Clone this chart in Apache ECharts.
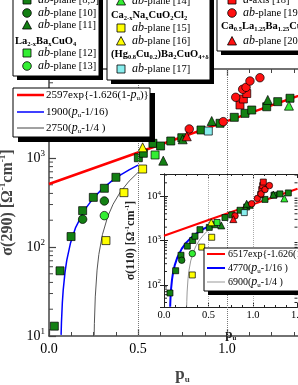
<!DOCTYPE html>
<html><head><meta charset="utf-8">
<script src="https://cdn.jsdelivr.net/npm/echarts@6/dist/echarts.min.js"></script>
<style>html,body{margin:0;padding:0;background:#fff}#c{width:298px;height:385px}</style>
</head><body><div id="c"></div>
<script>
// ---------------- data (p_u, sigma) ----------------
// main panel: sigma(290)
const mainSqDark   = [[0.030,12.9],[0.062,54],[0.124,131],[0.189,256],[0.249,361],[0.311,457],[0.376,607],[0.502,1007],[0.530,1130],[0.584,1462],[0.627,1365],[0.684,1552],[0.746,1690],[0.854,2065],[0.961,2455],[1.041,2865],[1.101,3175],[1.139,3460],[1.223,3765],[1.285,4295],[1.354,4690]];
const mainCircDark = [[0.189,205],[0.311,329]];
const mainTriDark  = [[0.642,933],[0.751,1622],[0.914,2605],[1.229,4490]];
const mainSqLight  = [[0.596,1081]];
const mainCircLight= [[0.311,225]];
const mainTriLight = [[1.348,3873]];
const mainSqYellow = [[0.320,118],[0.421,408],[0.526,752]];
const mainTriYellow= [[0.526,1318]];
const mainSqCyan   = [[0.895,2009]];
const mainSqRed    = [[1.073,3945],[1.092,4603],[1.111,5300]];
const mainCircRed  = [[0.788,2120],[0.979,2560],[1.049,4810],[1.088,5915],[1.107,6225],[1.129,7330],[1.185,7980]];
const mainTriRed   = [[0.774,1754]];
// fit curves, main panel
const mainFitRed  = [[0,511],[0.5,1152],[1.0,2597],[1.5,5855]];
const mainFitBlue = [[0.0679,10.3],[0.07,14.25],[0.075,23.75],[0.08,33.25],[0.09,52.25],[0.1,71.25],[0.12,109.25],[0.15,166.25],[0.2,261.25],[0.25,356.25],[0.3,451.25],[0.35,546.25],[0.4,641.25],[0.45,736.25],[0.5,831.25]];
const mainFitGray = [[0.2537,10.2],[0.255,13.75],[0.26,27.5],[0.27,55],[0.28,82.5],[0.3,137.5],[0.33,220],[0.36,302.5],[0.4,412.5],[0.45,550],[0.5,687.5]];
// inset panel: sigma(110)
const insSqDark   = [[0.067,65.5],[0.131,208],[0.191,464],[0.262,747],[0.322,1000],[0.348,1248],[0.404,1755],[0.509,1977],[0.573,2268],[0.685,3296],[0.761,3784],[0.854,4808],[0.929,5699],[0.966,6210],[1.135,8450],[1.236,10520],[1.303,11250],[1.397,11830]];
const insCircDark = [[0.199,359]];
const insTriDark  = [[0.644,2188],[0.929,6745],[1.228,10900]];
const insSqLight  = [[0.596,2553]];
const insCircLight= [[0.318,506]];
const insTriLight = [[1.352,8890]];
const insSqYellow = [[0.318,167],[0.424,710],[0.536,1183]];
const insTriYellow= [[0.531,2578]];
const insSqCyan   = [[0.902,4255]];
const insSqRed    = [[1.086,10900],[1.098,14100],[1.109,17300],[1.116,20800]];
const insCircRed  = [[0.798,3593],[0.985,6745],[1.049,8890],[1.09,11250],[1.135,14100],[1.184,17300]];
const insTriRed   = [[0.779,3034]];
const insFitRed  = [[0,1282],[0.5,2890],[1.0,6517],[1.5,14694]];
const insFitBlue = [[0.0692,32],[0.072,45.3],[0.075,59.6],[0.08,83.5],[0.09,131],[0.1,179],[0.12,274],[0.15,417],[0.2,656],[0.25,894],[0.3,1133],[0.35,1371],[0.4,1610],[0.45,1848],[0.5,2087]];
const insFitGray = [[0.2547,32.4],[0.256,41.4],[0.26,69],[0.27,138],[0.28,207],[0.3,345],[0.33,552],[0.36,759],[0.4,1035],[0.45,1380],[0.5,1725]];
// reference lines and minor tick values
const dottedAt = [0.5, 1.0];
const minorMainY = [20,30,40,50,60,70,80,90,200,300,400,500,600,700,800,900,2000,3000,4000,5000,6000,7000,8000,9000];
const minorInsY  = [40,50,60,70,80,90,200,300,400,500,600,700,800,900,2000,3000,4000,5000,6000,7000,8000,9000,20000,30000];
// legend texts
const fitLabelsMain = ['2597exp{-1.626(1-{i|p}{s|u})}','1900({i|p}{s|u}-1/16)','2750({i|p}{s|u}-1/4 )'];
const fitLabelsIns  = ['6517exp{-1.626(1-{i|p}{s|u})}','4770({i|p}{s|u}-1/16 )','6900({i|p}{s|u}-1/4 )'];

// ---------------- style ----------------
const FONT = 'Liberation Serif';
const C = {dg:'#138013', lg:'#33ee33', ye:'#ffff00', cy:'#88eeee', rd:'#ff1010'};
const AX = '#444';

function sc(data, symbol, color, size, xi, yi, z){
  return {type:'scatter', xAxisIndex:xi, yAxisIndex:yi, data, symbol, symbolSize:size,
    itemStyle:{color, borderColor:'#000', borderWidth:0.7, opacity:1}, z, silent:true, animation:false};
}
function ln(data,color,width,xi,yi,z,extra){
  return Object.assign({type:'line', xAxisIndex:xi, yAxisIndex:yi, data, showSymbol:false, symbol:'none',
    lineStyle:{color,width}, z, silent:true, animation:false, clip:true}, extra||{});
}
function ticks(values, xPos, len, xi, yi, z, color){
  return {type:'custom', xAxisIndex:xi, yAxisIndex:yi, z, silent:true, animation:false, clip:false,
    data: values.map(v=>[xPos, v]),
    renderItem:function(params, api){
      const p = api.coord([api.value(0), api.value(1)]);
      return {type:'line', shape:{x1:p[0], y1:p[1], x2:p[0]+len, y2:p[1]}, style:{stroke:color, lineWidth:1}};
    }};
}
function dotted(color){
  return {markLine:{silent:true, symbol:'none', label:{show:false}, animation:false,
    lineStyle:{type:'dotted', color, width:1}, data: dottedAt.map(v=>({xAxis:v}))}};
}
function logFmt(v){
  const e = Math.log10(v);
  if (Math.abs(e - Math.round(e)) > 1e-6) return '';
  return '10{p|' + Math.round(e) + '}';
}

// ---------------- graphic legend ----------------
const richTxt = {
  i:{fontStyle:'italic', fontFamily:FONT},
  s:{fontSize:7, lineHeight:7, verticalAlign:'bottom', fontFamily:FONT},
  bs:{fontSize:6.5, lineHeight:6, verticalAlign:'bottom', fontFamily:FONT, fontWeight:'bold'}
};
const G = [];
function box(x,y,w,h,off){
  G.push({type:'rect', shape:{x:x+off, y:y+off, width:w, height:h}, style:{fill:'#000'}, z:20});
  G.push({type:'rect', shape:{x, y, width:w, height:h}, style:{fill:'#fff', stroke:'#000', lineWidth:1}, z:21});
}
function mk(kind, cx, cy, fill, s){
  const st = {fill, stroke:'#000', lineWidth:0.8};
  if (kind==='sq') G.push({type:'rect', shape:{x:cx-s/2, y:cy-s/2, width:s, height:s}, style:st, z:22});
  else if (kind==='ci') G.push({type:'circle', shape:{cx, cy, r:s/2+0.3}, style:st, z:22});
  else G.push({type:'polygon', shape:{points:[[cx,cy-s/2-0.5],[cx+s/2+0.5,cy+s/2],[cx-s/2-0.5,cy+s/2]]}, style:st, z:22});
}
function tx(x, y, text, size, bold){
  G.push({type:'text', x, y, z:23, style:{text, fontFamily:FONT, fontSize:size, fontWeight:bold?'bold':'normal',
    fill:'#000', align:'left', verticalAlign:'middle', lineHeight:size+3, rich:richTxt}});
}
function hl(x1,x2,y,color,w){
  G.push({type:'line', shape:{x1, y1:y, x2, y2:y}, style:{stroke:color, lineWidth:w}, z:22});
}
const LS = 10.5, HS = 10.5;
// box 1
box(13,-20,86,96,4);
mk('sq',27,0,C.dg,8);  tx(38,0,'{i|ab}-plane [8,9]',LS);
mk('ci',27,13,C.dg,8); tx(38,13,'{i|ab}-plane [10]',LS);
mk('tr',27,25,C.dg,8); tx(38,25,'{i|ab}-plane [11]',LS);
tx(15,41,'La{bs|2-x}Ba{bs|x}CuO{bs|4}',HS,true);
mk('sq',27,53,C.lg,8); tx(38,53,'{i|ab}-plane [12]',LS);
mk('ci',27,66,C.lg,8); tx(38,66,'{i|ab}-plane [13]',LS);
// box 2
box(107,-20,103,100,4);
mk('tr',121,1,C.lg,8); tx(132,1,'{i|ab}-plane [14]',LS);
tx(111,15,'Ca{bs|2-x}Na{bs|x}CuO{bs|2}Cl{bs|2}',HS,true);
mk('sq',121,28,C.ye,8); tx(132,28,'{i|ab}-plane [15]',LS);
mk('tr',121,41,C.ye,8); tx(132,41,'{i|ab}-plane [16]',LS);
tx(111,54,'(Hg{bs|0.8}Cu{bs|0.2})Ba{bs|2}CuO{bs|4+δ}',HS,true);
mk('sq',121,69,C.cy,8); tx(132,69,'{i|ab}-plane [17]',LS);
// box 3
box(217,-20,100,71,4);
mk('sq',232,0,C.rd,8); tx(243,0,'{i|a}-axis [18]',LS);
mk('ci',232,13,C.rd,8); tx(243,13,'{i|ab}-plane [19]',LS);
tx(221,26,'Ca{bs|0.5}La{bs|1.25}Ba{bs|1.25}Cu{bs|3}O{bs|y}',HS,true);
mk('tr',232,41,C.rd,8); tx(243,41,'{i|ab}-plane [20]',LS);
// fit legend (main)
box(13,88,137,49,5);
hl(17,44,95,'#ff0000',2.5); tx(46,95,fitLabelsMain[0],11);
hl(17,44,112,'#0000ff',1.5); tx(46,112,fitLabelsMain[1],11);
hl(17,44,128,'#444',1); tx(46,128,fitLabelsMain[2],11);
// fit legend (inset)
box(204,248,110,43,4);
hl(207,225,254,'#ff0000',2); tx(228,254,fitLabelsIns[0],10);
hl(207,225,268,'#0000ff',2); tx(228,268,fitLabelsIns[1],10);
hl(207,225,282,'#999',1); tx(228,282,fitLabelsIns[2],10);

// ---------------- axes ----------------
const supRich = (fs)=>({p:{fontSize:fs, lineHeight:fs, verticalAlign:'top', fontFamily:FONT}});
function xAx(grid, pos, main, showLabel, name){
  const o = {type:'value', gridIndex:grid, position:pos, min:0, max:1.5, interval:0.5,
    axisLine:{show:true, onZero:false, lineStyle:{color: main?AX:'#222', width: main?1.5:1}},
    axisTick:{show:true, inside:true, length: main?7:4, lineStyle:{color: main?AX:'#222', width: main?1.2:1}},
    minorTick:{show:true, splitNumber:4, length: main?4:2, lineStyle:{color: main?AX:'#222'}},
    splitLine:{show:false}, minorSplitLine:{show:false},
    axisLabel:{show:showLabel, formatter:v=>v.toFixed(1), fontFamily:FONT, fontSize: main?14:10.5, color:'#000', margin: main?6:3},
    z: main?0:4};
  if (name) {
    o.name = '{a|p}{s|u}'; o.nameLocation='middle'; o.nameGap = main?30:21;
    o.nameTextStyle = {rich:{a:{fontFamily:FONT, fontWeight:'bold', fontSize: main?17:13, lineHeight: main?18:14},
                             s:{fontFamily:FONT, fontWeight:'bold', fontSize: main?9:7, lineHeight: main?8:6, verticalAlign:'bottom'}}};
  }
  return o;
}
const option = {
  animation:false,
  backgroundColor:'#fff',
  grid:[
    {left:49, top:69, width:267, height:267, outerBoundsMode:'none'},
    {left:164, top:174, width:133.5, height:133, show:true, backgroundColor:'#fff', borderWidth:0, z:3, outerBoundsMode:'none'}
  ],
  xAxis:[
    xAx(0,'bottom',true,true,true),
    xAx(0,'top',true,false,false),
    xAx(1,'bottom',false,true,true),
    xAx(1,'top',false,false,false)
  ],
  yAxis:[
    {type:'log', logBase:10, gridIndex:0, min:10, max:10000, position:'left',
     axisLine:{show:true, lineStyle:{color:AX, width:1.5}},
     axisTick:{show:true, inside:true, length:7, lineStyle:{color:AX, width:1.2}},
     splitLine:{show:false},
     axisLabel:{formatter:logFmt, fontFamily:FONT, fontSize:14, color:'#000', margin:4, lineHeight:18, rich:supRich(9)},
     name:'{a|σ(290) [Ω}{p|-1}{a|cm}{p|-1}{a|]}', nameLocation:'middle', nameGap:27, nameRotate:90,
     nameTextStyle:{rich:{a:{fontFamily:FONT, fontWeight:'bold', fontSize:16, lineHeight:18},
                          p:{fontFamily:FONT, fontWeight:'bold', fontSize:9, lineHeight:8, verticalAlign:'top'}}}},
    {type:'log', logBase:10, gridIndex:1, min:31.6227766, max:31622.7766, position:'left', z:4,
     axisLine:{show:true, lineStyle:{color:'#222', width:1}},
     axisTick:{show:true, inside:true, length:4, lineStyle:{color:'#222'}},
     splitLine:{show:false},
     axisLabel:{formatter:logFmt, fontFamily:FONT, fontSize:10.5, color:'#000', margin:3, lineHeight:14, rich:supRich(7)},
     name:'{a|σ(110) [Ω}{p|-1}{a|cm}{p|-1}{a|]}', nameLocation:'middle', nameGap:26, nameRotate:90,
     nameTextStyle:{rich:{a:{fontFamily:FONT, fontWeight:'bold', fontSize:12, lineHeight:14},
                          p:{fontFamily:FONT, fontWeight:'bold', fontSize:7, lineHeight:6, verticalAlign:'top'}}}},
    {type:'log', logBase:10, gridIndex:1, min:31.6227766, max:31622.7766, position:'right', z:4,
     axisLine:{show:true, lineStyle:{color:'#222', width:1}},
     axisTick:{show:true, inside:true, length:4, lineStyle:{color:'#222'}},
     splitLine:{show:false}, axisLabel:{show:false}}
  ],
  graphic: G,
  series:[
    // main panel
    ln(mainFitRed,'#ff0000',2.5,0,0,2, dotted('#777')),
    ln(mainFitBlue,'#0000ff',1.5,0,0,2),
    ln(mainFitGray,'#555',1,0,0,2),
    sc(mainSqDark,'rect',C.dg,8,0,0,2),
    sc(mainCircDark,'circle',C.dg,8.5,0,0,2),
    sc(mainTriDark,'triangle',C.dg,9,0,0,2),
    sc(mainSqLight,'rect',C.lg,8,0,0,2),
    sc(mainCircLight,'circle',C.lg,8.5,0,0,2),
    sc(mainTriLight,'triangle',C.lg,9,0,0,2),
    sc(mainSqYellow,'rect',C.ye,8,0,0,2),
    sc(mainTriYellow,'triangle',C.ye,9,0,0,2),
    sc(mainSqCyan,'rect',C.cy,8,0,0,2),
    sc(mainSqRed,'rect',C.rd,8,0,0,2),
    sc(mainCircRed,'circle',C.rd,8.5,0,0,2),
    sc(mainTriRed,'triangle',C.rd,9,0,0,2),
    ticks(minorMainY,0,4,0,0,1,AX),
    // inset panel
    ln(insFitRed,'#ff0000',2,2,1,5, dotted('#aaa')),
    ln(insFitBlue,'#0000ff',2,2,1,5),
    ln(insFitGray,'#999',1,2,1,5),
    sc(insSqDark,'rect',C.dg,6,2,1,6),
    sc(insCircDark,'circle',C.dg,6.5,2,1,6),
    sc(insTriDark,'triangle',C.dg,7,2,1,6),
    sc(insSqLight,'rect',C.lg,6,2,1,6),
    sc(insCircLight,'circle',C.lg,6.5,2,1,6),
    sc(insTriLight,'triangle',C.lg,7,2,1,6),
    sc(insSqYellow,'rect',C.ye,6,2,1,6),
    sc(insTriYellow,'triangle',C.ye,7,2,1,6),
    sc(insSqCyan,'rect',C.cy,6,2,1,6),
    sc(insSqRed,'rect',C.rd,6,2,1,6),
    sc(insCircRed,'circle',C.rd,6.5,2,1,6),
    sc(insTriRed,'triangle',C.rd,7,2,1,6),
    ticks(minorInsY,0,3,2,1,5,'#222'),
    ticks(minorInsY,1.5,-3,2,1,5,'#222')
  ]
};
const chart = echarts.init(document.getElementById('c'), null, {renderer:'canvas'});
chart.setOption(option);
</script></body></html>
